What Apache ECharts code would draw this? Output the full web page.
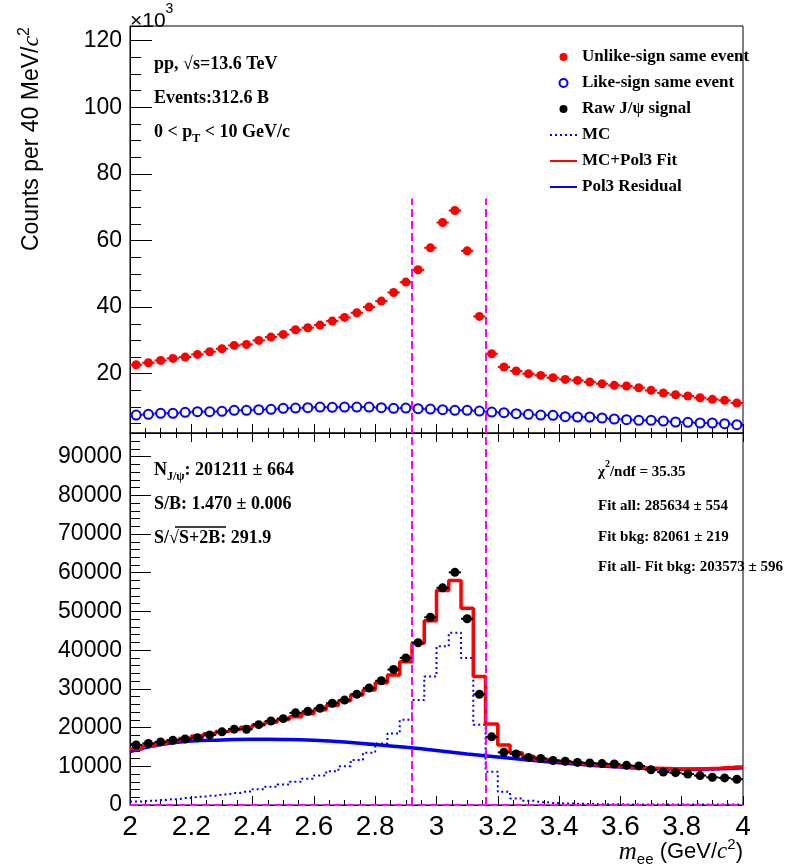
<!DOCTYPE html>
<html><head><meta charset="utf-8">
<script src="https://cdn.jsdelivr.net/npm/echarts@6/dist/echarts.min.js"></script>
<style>html,body{margin:0;padding:0;background:#fff}#c{width:796px;height:865px}</style>
</head><body><div id="c"></div>
<script>
// ---------------- data ----------------
const binCenters = [2.02,2.06,2.10,2.14,2.18,2.22,2.26,2.30,2.34,2.38,2.42,2.46,2.50,2.54,2.58,2.62,2.66,2.70,2.74,2.78,
  2.82,2.86,2.90,2.94,2.98,3.02,3.06,3.10,3.14,3.18,3.22,3.26,3.30,3.34,3.38,3.42,3.46,3.50,3.54,3.58,
  3.62,3.66,3.70,3.74,3.78,3.82,3.86,3.90,3.94,3.98];
// top panel, counts ×10^3
const unlikeSign = [22.7,23.3,24.0,24.6,25.0,25.8,26.6,27.5,28.5,28.8,30.0,31.0,31.8,33.2,33.8,34.6,35.8,36.9,38.3,40.0,
  41.8,44.4,47.5,51.2,57.8,65.4,69.0,56.9,37.2,26.0,22.0,20.8,20.0,19.5,18.8,18.3,18.0,17.5,17.0,16.5,
  16.3,15.8,15.0,14.2,13.7,13.3,12.8,12.3,12.0,11.2];
const likeSign = [7.6,7.8,8.1,8.1,8.4,8.6,8.6,8.7,9.0,9.0,9.2,9.3,9.6,9.7,9.8,10.0,9.9,10.0,10.0,10.0,
  9.8,9.6,9.7,9.5,9.4,9.2,9.0,9.0,8.8,8.5,8.3,8.0,7.8,7.6,7.5,7.1,7.0,7.0,6.7,6.4,
  6.2,6.0,6.0,5.8,5.5,5.4,5.2,5.2,5.0,4.7];
// bottom panel, counts
const rawSignal = [15500,15900,16300,16700,17050,17400,18100,18900,19600,19550,20750,21700,22300,23800,24200,25000,26300,27100,28600,30200,
  32100,35000,38000,41900,48500,56100,60100,48100,28600,17600,13600,13200,12300,12000,11500,11300,11000,10850,10700,10600,
  10250,10100,9100,8500,8350,8000,7600,7150,7000,6650];
const mcHist = [900,1100,1300,1500,1800,2100,2400,2700,3100,3500,4100,4700,5300,6000,6800,7600,8700,10000,11600,13500,
  15900,18500,22000,27100,33200,41000,44500,38000,20700,8600,3400,1700,1100,700,500,400,300,250,200,180,
  160,150,140,130,120,110,100,100,100,100];
const fitHist = [14500,15200,15900,16600,17200,17800,18400,19000,19500,20100,20700,21400,22100,22800,23600,24600,25700,26900,28400,29700,
  31600,33600,37000,41800,47600,55400,58000,50800,33200,20900,15500,13500,12500,11800,11400,11000,10750,10450,10200,10000,
  9800,9650,9500,9400,9330,9330,9380,9450,9600,9800];
const pol3X = [2.0,2.1,2.2,2.3,2.4,2.5,2.6,2.7,2.8,2.9,3.0,3.1,3.2,3.3,3.4,3.5,3.6,3.7,3.8,3.9,4.0];
const pol3Y = [13800,15600,16500,16800,17000,16950,16750,16300,15600,14900,14100,13200,12400,11600,10900,10300,9800,9400,9250,9300,9600];
const massWindow = [2.92, 3.16];
const windowLineTop = 72.6;   // ×10^3, top panel
const xMin = 2, xMax = 4, halfBin = 0.02;
const topYMin = 2.2, topYMax = 124.4;
const botYMin = 0, botYMax = 96100;

// ---------------- helpers ----------------
const pts = arr => binCenters.map((x, i) => [x, arr[i]]);
const stepPts = arr => [[xMin, arr[0]]].concat(pts(arr), [[xMax, arr[arr.length - 1]]]);
function errBar(name, xi, yi, arr, color, z) {
  return {
    name, type: 'custom', xAxisIndex: xi, yAxisIndex: yi, data: pts(arr), z, silent: true,
    encode: {x: 0, y: 1},
    renderItem(params, api) {
      const x = api.value(0), y = api.value(1);
      const a = api.coord([x - halfBin, y]), b = api.coord([x + halfBin, y]);
      return {type: 'line', shape: {x1: a[0], y1: a[1], x2: b[0], y2: b[1]}, style: {stroke: color, lineWidth: 2}};
    }
  };
}
const SANS = 'Liberation Sans, Arial, sans-serif';
const SERIF = 'Liberation Serif, Times New Roman, serif';
const mag = {color: '#ff00ff', width: 2, type: [8, 4]};

function xAxisDef(grid, opts) {
  return Object.assign({
    gridIndex: grid, type: 'value', min: xMin, max: xMax, interval: 0.2,
    axisLine: {show: true, lineStyle: {color: '#000', width: 1}},
    axisTick: {show: true, inside: true, length: 9, lineStyle: {color: '#000'}},
    minorTick: {show: true, splitNumber: 4, length: 5, lineStyle: {color: '#000'}},
    axisLabel: {show: false},
    splitLine: {show: false}, minorSplitLine: {show: false}
  }, opts);
}

const bold = (size, extra) => Object.assign({fontFamily: SERIF, fontWeight: 'bold', fontSize: size, color: '#000', fill: '#000'}, extra || {});
function richBlock(size) {
  return {
    b: bold(size, {lineHeight: 26, verticalAlign: 'middle'}),
    s: bold(Math.round(size * 0.68), {lineHeight: 14, verticalAlign: 'bottom'}),
    t: bold(Math.round(size * 0.68), {lineHeight: 10, verticalAlign: 'bottom'}),
    p: bold(Math.round(size * 0.68), {lineHeight: 14, verticalAlign: 'top'})
  };
}
function ann(x, y, text, size) {
  return {type: 'text', x: x, y: y, z: 100, silent: true,
    style: {text: text, rich: richBlock(size), fill: '#000', verticalAlign: 'middle', align: 'left',
      fontFamily: SERIF, fontWeight: 'bold', fontSize: size}};
}
const noSymbol = {opacity: 0};

const option = {
  animation: false,
  backgroundColor: '#fff',
  grid: [
    {left: 130, top: 26, width: 613, height: 407, show: true, borderColor: '#000', borderWidth: 1, backgroundColor: 'transparent', outerBoundsMode: 'none', containLabel: false},
    {left: 130, top: 433, width: 613, height: 372, show: true, borderColor: '#000', borderWidth: 1, backgroundColor: 'transparent', outerBoundsMode: 'none', containLabel: false}
  ],
  xAxis: [
    xAxisDef(0, {position: 'bottom'}),
    xAxisDef(1, {position: 'bottom',
      axisLabel: {show: true, fontFamily: SANS, fontSize: 28, color: '#000', margin: 8},
      name: '{i|m}{sub|ee}{n| (GeV/}{i2|c}{sup|2}{n|)}', nameLocation: 'end', nameGap: 0, nameMoveOverlap: false,
      nameTextStyle: {align: 'right', verticalAlign: 'top', padding: [32, 0, 0, 0], color: '#000',
        rich: {
          i: {fontFamily: SERIF, fontStyle: 'italic', fontSize: 25, lineHeight: 30, verticalAlign: 'middle', color: '#000'},
          i2: {fontFamily: SERIF, fontStyle: 'italic', fontSize: 23, lineHeight: 30, verticalAlign: 'middle', color: '#000'},
          sub: {fontFamily: SANS, fontSize: 15, lineHeight: 18, verticalAlign: 'bottom', color: '#000'},
          n: {fontFamily: SANS, fontSize: 22, lineHeight: 30, verticalAlign: 'middle', color: '#000'},
          sup: {fontFamily: SANS, fontSize: 15, lineHeight: 20, verticalAlign: 'top', color: '#000'}
        }}}),
    xAxisDef(1, {position: 'top'})
  ],
  yAxis: [
    {gridIndex: 0, type: 'value', min: topYMin, max: topYMax, splitNumber: 6,
      axisLine: {show: true, lineStyle: {color: '#000'}},
      axisTick: {show: true, inside: true, length: 22, lineStyle: {color: '#000'}},
      minorTick: {show: true, splitNumber: 4, length: 11, lineStyle: {color: '#000'}},
      splitLine: {show: false},
      axisLabel: {fontFamily: SANS, fontSize: 23, color: '#000', margin: 8,
        formatter: v => (Math.abs(v / 20 - Math.round(v / 20)) < 1e-6 ? String(Math.round(v)) : '')},
      name: '{n|Counts per 40 MeV/}{i|c}{s|2}', nameLocation: 'end', nameGap: 0, nameRotate: 90, nameMoveOverlap: false,
      nameTextStyle: {align: 'right', verticalAlign: 'bottom', padding: [0, 1, 83, 0], color: '#000',
        rich: {
          n: {fontFamily: SANS, fontSize: 23, lineHeight: 30, verticalAlign: 'middle', color: '#000'},
          i: {fontFamily: SERIF, fontStyle: 'italic', fontSize: 24, lineHeight: 30, verticalAlign: 'middle', color: '#000'},
          s: {fontFamily: SANS, fontSize: 16, lineHeight: 20, verticalAlign: 'top', color: '#000'}
        }}},
    {gridIndex: 1, type: 'value', min: botYMin, max: botYMax, interval: 10000,
      axisLine: {show: true, lineStyle: {color: '#000'}},
      axisTick: {show: true, inside: true, length: 21, lineStyle: {color: '#000'}},
      minorTick: {show: true, splitNumber: 5, length: 10, lineStyle: {color: '#000'}},
      splitLine: {show: false},
      axisLabel: {fontFamily: SANS, fontSize: 23, color: '#000', margin: 8,
        formatter: v => (v % 10000 === 0 ? String(v) : '')}}
  ],
  legend: {
    orient: 'vertical', left: 549, top: 48, padding: 0, itemWidth: 27, itemHeight: 8, itemGap: 8,
    selectedMode: false,
    data: [
      {name: 'Unlike-sign same event'},
      {name: 'Like-sign same event'},
      {name: 'Raw J/ψ signal'},
      {name: 'MC', itemStyle: noSymbol},
      {name: 'MC+Pol3 Fit', itemStyle: noSymbol},
      {name: 'Pol3 Residual', itemStyle: noSymbol}
    ],
    textStyle: {fontFamily: SERIF, fontWeight: 'bold', fontSize: 17, lineHeight: 18, color: '#000'}
  },
  series: [
    // ---- top panel ----
    errBar('err-like', 0, 0, likeSign, '#0000ff', 3),
    errBar('err-unlike', 0, 0, unlikeSign, '#ff0000', 3),
    {name: 'Like-sign same event', type: 'scatter', xAxisIndex: 0, yAxisIndex: 0, data: pts(likeSign),
      symbol: 'emptyCircle', symbolSize: 9, z: 4,
      itemStyle: {color: '#0000ff', borderColor: '#0000ff', borderWidth: 1.5, opacity: 1}},
    {name: 'Unlike-sign same event', type: 'scatter', xAxisIndex: 0, yAxisIndex: 0, data: pts(unlikeSign),
      symbol: 'circle', symbolSize: 9, z: 5, itemStyle: {color: '#ff0000', opacity: 1},
      markLine: {silent: true, symbol: 'none', label: {show: false}, lineStyle: mag, z: 6,
        data: massWindow.map(m => [{coord: [m, topYMin]}, {coord: [m, windowLineTop]}])}},
    // ---- bottom panel ----
    {name: 'Pol3 Residual', type: 'line', xAxisIndex: 1, yAxisIndex: 1, data: pol3X.map((x, i) => [x, pol3Y[i]]),
      smooth: true, symbol: 'none', showSymbol: false, z: 2, lineStyle: {color: '#0000ff', width: 3.5}, itemStyle: {color: '#0000ff'}},
    {name: 'MC', type: 'line', xAxisIndex: 1, yAxisIndex: 1, data: stepPts(mcHist), step: 'middle',
      symbol: 'none', showSymbol: false, z: 3, lineStyle: {color: '#0000ff', width: 2, type: [2, 3]}, itemStyle: {color: '#0000ff'}},
    {name: 'MC+Pol3 Fit', type: 'line', xAxisIndex: 1, yAxisIndex: 1, data: stepPts(fitHist), step: 'middle',
      symbol: 'none', showSymbol: false, z: 4, lineStyle: {color: '#ff0000', width: 3.5}, itemStyle: {color: '#ff0000'}},
    errBar('err-raw', 1, 1, rawSignal, '#000000', 5),
    {name: 'Raw J/ψ signal', type: 'scatter', xAxisIndex: 1, yAxisIndex: 1, data: pts(rawSignal),
      symbol: 'circle', symbolSize: 9, z: 6, itemStyle: {color: '#000', opacity: 1},
      markLine: {silent: true, symbol: 'none', label: {show: false}, lineStyle: mag,
        data: massWindow.map(m => ({xAxis: m})).concat([{yAxis: 0}])}}
  ],
  graphic: [
    {type: 'text', x: 130, y: 2, z: 100, silent: true,
      style: {text: '{a|×10}{b|3}', fill: '#000', verticalAlign: 'top',
        rich: {a: {fontFamily: SANS, fontSize: 21, lineHeight: 30, verticalAlign: 'bottom', fill: '#000'},
               b: {fontFamily: SANS, fontSize: 14, lineHeight: 12, verticalAlign: 'top', fill: '#000'}}}},
    ann(154, 64, '{b|pp, √s=13.6 TeV}', 18),
    ann(154, 98, '{b|Events:312.6 B}', 18),
    ann(154, 132, '{b|0 < p}{t|T}{b| < 10 GeV/c}', 18),
    ann(154, 470, '{b|N}{s|J/ψ}{b|: 201211 ± 664}', 18),
    ann(154, 504, '{b|S/B: 1.470 ± 0.006}', 18),
    ann(154, 538, '{b|S/√S+2B: 291.9}', 18),
    {type: 'line', silent: true, z: 100, shape: {x1: 175, y1: 527, x2: 226, y2: 527}, style: {stroke: '#000', lineWidth: 1.5}},
    ann(598, 472, '{b|χ}{p|2}{b|/ndf = 35.35}', 15),
    ann(598, 506, '{b|Fit all: 285634 ± 554}', 15),
    ann(598, 537, '{b|Fit bkg: 82061 ± 219}', 15),
    ann(598, 567, '{b|Fit all- Fit bkg: 203573 ± 596}', 15)
  ]
};
const chart = echarts.init(document.getElementById('c'), null, {renderer: 'canvas', width: 796, height: 865});
chart.setOption(option);
</script>
</body></html>
